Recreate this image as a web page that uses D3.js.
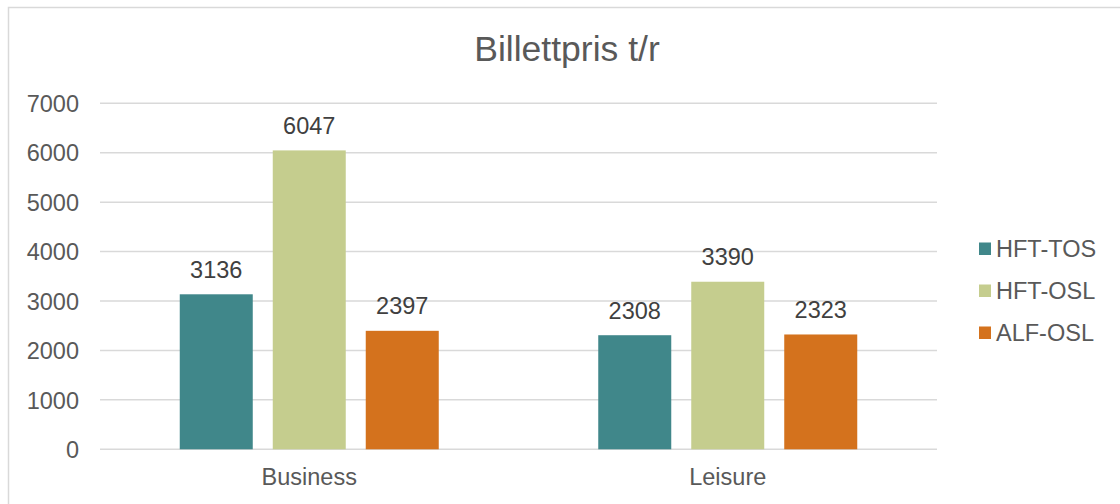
<!DOCTYPE html>
<html>
<head>
<meta charset="utf-8">
<script src="https://cdn.jsdelivr.net/npm/d3@7"></script>
<style>
  html, body { margin: 0; padding: 0; background: #ffffff; }
  svg { display: block; font-family: "Liberation Sans", Arial, sans-serif; }
</style>
</head>
<body>
<svg id="chart" width="1120" height="504"></svg>
<script>
const title = "Billettpris t/r";
const categories = ["Business", "Leisure"];
const seriesNames = ["HFT-TOS", "HFT-OSL", "ALF-OSL"];
const seriesColors = ["#40878A", "#C5CD8E", "#D4721D"];
const hftTos = [3136, 2308];
const hftOsl = [6047, 3390];
const alfOsl = [2397, 2323];
const yTicks = [0, 1000, 2000, 3000, 4000, 5000, 6000, 7000];

const seriesValues = [hftTos, hftOsl, alfOsl];

const svg = d3.select("#chart");
const W = 1120, H = 504;

// chart frame
svg.append("rect")
  .attr("x", 8.5).attr("y", 7.5)
  .attr("width", W + 20).attr("height", H + 20)
  .attr("fill", "#ffffff")
  .attr("stroke", "#d9d9d9").attr("stroke-width", 1.5);

const plot = { left: 100, right: 937, top: 103.3, bottom: 449.3 };

const y = d3.scaleLinear().domain([0, 7000]).range([plot.bottom, plot.top]);
const x0 = d3.scaleBand().domain(categories).range([plot.left, plot.right]).paddingInner(0).paddingOuter(0);
const groupPad = 79.75;
const x1 = d3.scaleBand().domain(seriesNames)
  .range([groupPad, x0.bandwidth() - groupPad])
  .paddingInner(0.215).paddingOuter(0);
const color = d3.scaleOrdinal().domain(seriesNames).range(seriesColors);

// gridlines
svg.append("g")
  .selectAll("line")
  .data(yTicks)
  .join("line")
  .attr("x1", plot.left).attr("x2", plot.right)
  .attr("y1", d => y(d)).attr("y2", d => y(d))
  .attr("stroke", "#d9d9d9").attr("stroke-width", 1.5);

// y axis labels
const yAxis = d3.axisLeft(y).tickValues(yTicks).tickSize(0).tickPadding(0).tickFormat(d3.format("d"));
const yg = svg.append("g").attr("transform", `translate(${plot.left - 21},0)`).call(yAxis);
yg.select(".domain").remove();
yg.selectAll("text")
  .attr("font-size", 23.5)
  .attr("fill", "#595959")
  .attr("font-family", "Liberation Sans, Arial, sans-serif")
  .attr("dy", "0.35em");

// bars
const rows = categories.map((c, i) => ({ cat: c, vals: seriesNames.map((s, j) => ({ s, v: seriesValues[j][i] })) }));

const groups = svg.append("g").selectAll("g")
  .data(rows)
  .join("g")
  .attr("transform", d => `translate(${x0(d.cat)},0)`);

groups.selectAll("rect")
  .data(d => d.vals)
  .join("rect")
  .attr("x", d => x1(d.s))
  .attr("width", x1.bandwidth())
  .attr("y", d => y(d.v))
  .attr("height", d => y(0) - y(d.v))
  .attr("fill", d => color(d.s));

groups.selectAll("text")
  .data(d => d.vals)
  .join("text")
  .attr("x", d => x1(d.s) + x1.bandwidth() / 2)
  .attr("y", d => y(d.v) - 16.5)
  .attr("text-anchor", "middle")
  .attr("font-size", 23.5)
  .attr("fill", "#404040")
  .text(d => d.v);

// category labels
const xAxis = d3.axisBottom(x0).tickSize(0).tickPadding(0);
const xg = svg.append("g").attr("transform", `translate(0,${plot.bottom})`).call(xAxis);
xg.select(".domain").remove();
xg.selectAll("text")
  .attr("font-size", 23.5)
  .attr("fill", "#595959")
  .attr("font-family", "Liberation Sans, Arial, sans-serif")
  .attr("dy", 0)
  .attr("y", 36);

// title
svg.append("text")
  .attr("x", 567).attr("y", 61)
  .attr("text-anchor", "middle")
  .attr("font-size", 35.5)
  .attr("fill", "#595959")
  .text(title);

// legend
const legend = svg.append("g").selectAll("g")
  .data(seriesNames)
  .join("g")
  .attr("transform", (d, i) => `translate(979,${256.5 + i * 42})`);
legend.append("rect")
  .attr("x", 0).attr("y", -14)
  .attr("width", 12).attr("height", 12.5)
  .attr("fill", d => color(d));
legend.append("text")
  .attr("x", 17).attr("y", 0)
  .attr("font-size", 23.5)
  .attr("fill", "#595959")
  .text(d => d);
</script>
</body>
</html>
